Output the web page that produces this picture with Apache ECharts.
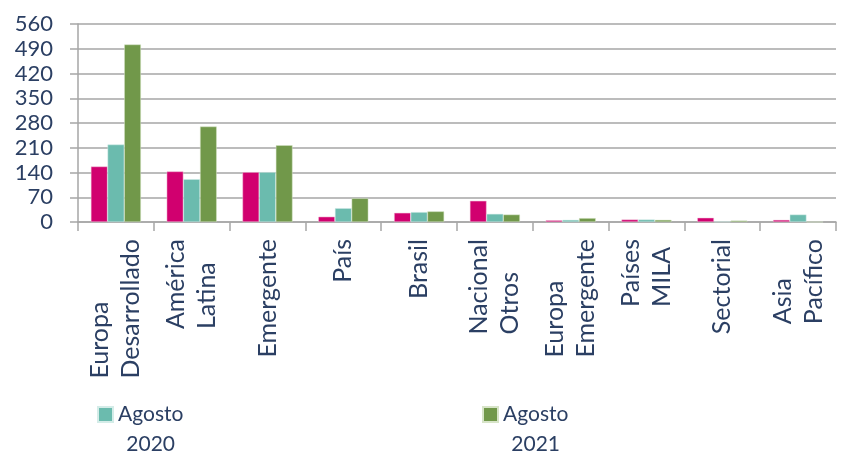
<!DOCTYPE html>
<html><head>
<meta charset="UTF-8">
<title>Agosto</title>
<script src="https://cdn.jsdelivr.net/npm/echarts@6/dist/echarts.min.js"></script>
<style>
html,body{margin:0;padding:0;background:#fff;}
#chart{width:847px;height:457px;}
</style>
</head>
<body>
<div id="chart"></div>
<script>
// datos
var categorias = ['Europa\nDesarrollado', 'América\nLatina', 'Emergente', 'País', 'Brasil',
    'Nacional\nOtros', 'Europa\nEmergente', 'Países\nMILA', 'Sectorial', 'Asia\nPacífico'];
var agosto2019 = [157, 143, 141, 15, 26, 60, 5, 7, 12, 6];
var agosto2020 = [219, 121, 141, 39, 28, 23, 6, 7, 1, 21];
var agosto2021 = [502, 270, 217, 67, 30, 21, 11, 6, 4, 0];
var ticksY = [0, 70, 140, 210, 280, 350, 420, 490, 560];

var txt = '#2b3f63';
var gris = '#a6a6a6';
var fuente = 'Lato';

function lineas(v, estilo) {
    return v.split('\n').map(function (s) { return '{' + estilo + '|' + s + '}'; }).join('\n');
}

function leyenda(nombre, x) {
    return {
        data: [nombre],
        left: x, top: 404, padding: 0,
        itemWidth: 15, itemHeight: 15, itemGap: 5,
        icon: 'rect',
        formatter: function (n) { return lineas(n, 'c'); },
        textStyle: {
            padding: [30, 0, 0, 0],
            rich: { c: { align: 'center', fontFamily: fuente, fontSize: 21, lineHeight: 30, color: txt } }
        }
    };
}

var chart = echarts.init(document.getElementById('chart'));
chart.setOption({
    animation: false,
    grid: { left: 78, right: 11, top: 24, bottom: 235, containLabel: false },
    legend: [leyenda('Agosto\n2020', 97), leyenda('Agosto\n2021', 482)],
    xAxis: {
        type: 'category',
        data: categorias,
        axisLine: { lineStyle: { color: gris, width: 1.5 } },
        axisTick: { show: true, length: 9, lineStyle: { color: gris, width: 1.5 } },
        axisLabel: {
            rotate: 90, margin: 17, interval: 0,
            formatter: function (v) { return lineas(v, 'l'); },
            rich: { l: { align: 'left', fontFamily: fuente, fontSize: 25, lineHeight: 31, color: txt } }
        }
    },
    yAxis: {
        type: 'value',
        min: 0, max: 560, interval: 70,
        axisLine: { show: true, lineStyle: { color: gris, width: 1.5 } },
        axisTick: { show: true, length: 8, lineStyle: { color: gris, width: 1.5 } },
        axisLabel: {
            margin: 25, fontFamily: fuente, fontSize: 22, color: txt,
            formatter: function (v) { return ticksY.indexOf(v) >= 0 ? String(v) : ''; }
        },
        splitLine: { lineStyle: { color: gris, width: 1.5 } }
    },
    series: [
        { name: 'Agosto\n2019', type: 'bar', data: agosto2019, barGap: '0%', barCategoryGap: '34%',
          itemStyle: { color: '#d1006f', borderColor: '#f2c6dc', borderWidth: 0.5 } },
        { name: 'Agosto\n2020', type: 'bar', data: agosto2020, barGap: '0%', barCategoryGap: '34%',
          itemStyle: { color: '#6bbbae', borderColor: '#d4ece8', borderWidth: 0.5 } },
        { name: 'Agosto\n2021', type: 'bar', data: agosto2021, barGap: '0%', barCategoryGap: '34%',
          itemStyle: { color: '#71984a', borderColor: '#d7e4c8', borderWidth: 0.5 } }
    ]
});
</script>
</body></html>
